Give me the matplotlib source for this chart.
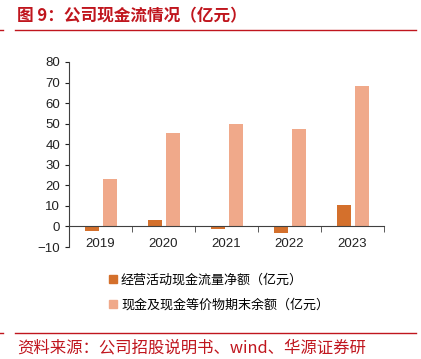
import matplotlib.pyplot as plt
from matplotlib.lines import Line2D
import numpy as np

plt.rcParams['font.family'] = ['Noto Sans CJK SC', 'DejaVu Sans']

years = ['2019', '2020', '2021', '2022', '2023']
op_cash = [-2.4, 3.2, -1.0, -3.1, 10.2]
cash_end = [23.1, 45.6, 49.6, 47.2, 68.2]
labels = ['经营活动现金流量净额（亿元）', '现金及现金等价物期末余额（亿元）']

c_op = '#D4702C'
c_end = '#F0A98A'
red = '#C0161E'

fig = plt.figure(figsize=(4.21, 3.59), dpi=100)
ax = fig.add_axes([69/421, 112/359, 315/421, 185/359])

x = np.arange(len(years))
w = 0.22
ax.bar(x - 0.135, op_cash, w, color=c_op)
ax.bar(x + 0.15, cash_end, w, color=c_end)

ax.set_xlim(-0.5, 4.5)
ax.set_ylim(-10, 80)
ax.set_yticks(range(-10, 81, 10))
ax.spines['top'].set_visible(False)
ax.spines['right'].set_visible(False)
ax.spines['bottom'].set_position(('data', 0))
ax.spines['bottom'].set_color('#404040')
ax.spines['left'].set_color('#404040')

ax.set_xticks(x)
ax.set_xticklabels(years)
ax.set_xticks(np.arange(0.5, 5, 1), minor=True)
ax.tick_params(axis='x', which='major', length=0, pad=8, labelsize=9.5, colors='#222222')
ax.tick_params(axis='x', which='minor', length=4, direction='out', color='#404040')
ax.tick_params(axis='y', length=3, labelsize=9.5, colors='#222222')
for t in ax.get_xticklabels() + ax.get_yticklabels():
    t.set_family('Liberation Sans')

handles = [Line2D([], [], marker='s', ls='', color=c, markersize=6) for c in (c_op, c_end)]
fig.legend(handles, labels, loc='upper left', bbox_to_anchor=(104/421, 1 - 268/359),
           frameon=False, fontsize=9.4, handlelength=0.6, handletextpad=0.3,
           labelspacing=0.95, borderaxespad=0)

# title and source
fig.text(17/421, 1 - 16/359, '图 9：公司现金流情况（亿元）', color=red, fontsize=12,
         fontweight='bold', va='center', ha='left')
fig.add_artist(Line2D([15/421, 416/421], [1 - 29.5/359] * 2, color=red, lw=1))
fig.add_artist(Line2D([0, 3/421], [1 - 29.5/359] * 2, color=red, lw=1))
fig.add_artist(Line2D([15/421, 416/421], [1 - 333/359] * 2, color=red, lw=1))
fig.add_artist(Line2D([0, 3/421], [1 - 333/359] * 2, color=red, lw=1))
fig.text(17/421, 1 - 348/359, '资料来源：公司招股说明书、wind、华源证券研', color=red,
         fontsize=11.8, va='center', ha='left')

fig.savefig('out.png', dpi=100)
